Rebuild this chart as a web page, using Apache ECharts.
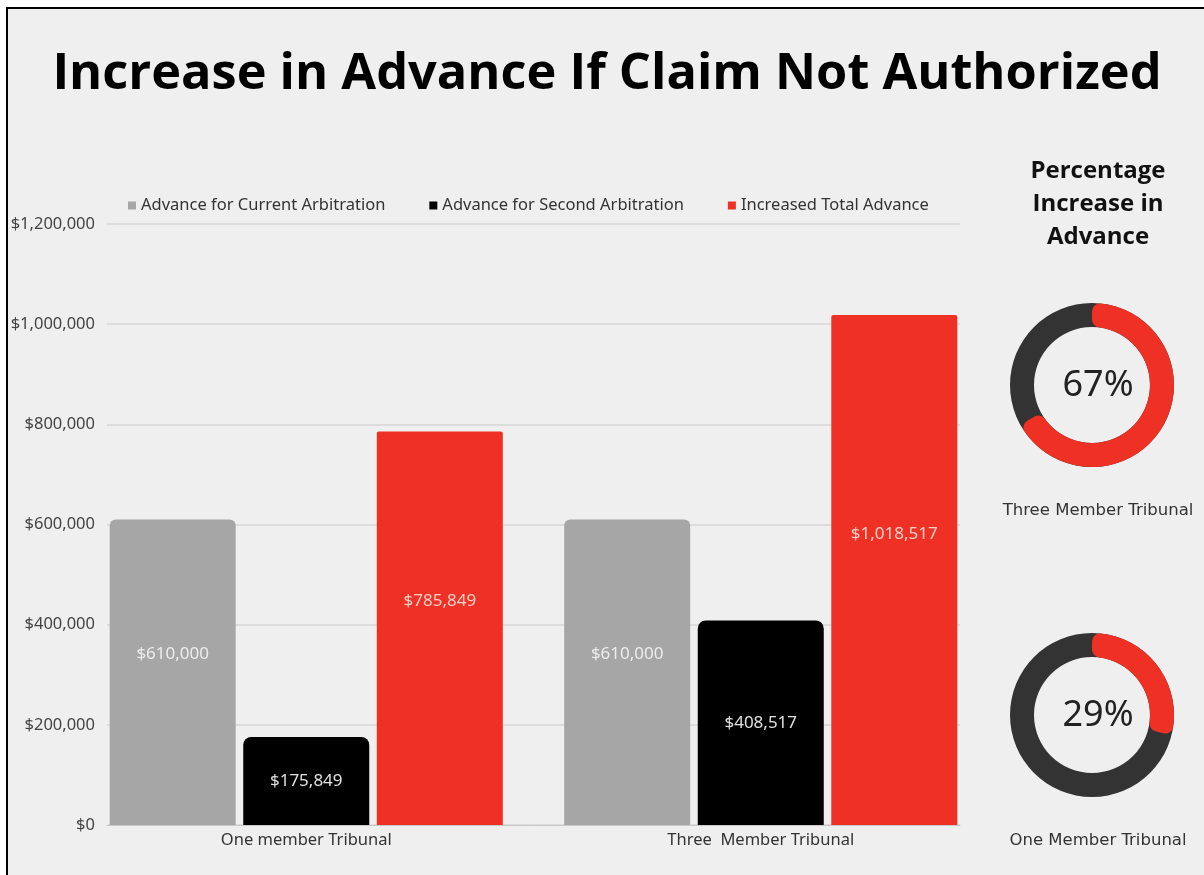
<!DOCTYPE html>
<html lang="en">
<head>
    <meta charset="UTF-8">
    <title>advance increase</title>
    <style>
        html, body { margin: 0; padding: 0; background: #ffffff; }
        #main { width: 1204px; height: 875px; }
    </style>
</head>
<body>
<div id="main"></div>
<script src="https://cdn.jsdelivr.net/npm/echarts@6/dist/echarts.min.js"></script>
<script>
    // data
    const categories = ['One member Tribunal', 'Three  Member Tribunal'];
    const seriesNames = ['Advance for Current Arbitration', 'Advance for Second Arbitration', 'Increased Total Advance'];
    const currentAdvance = [610000, 610000];
    const secondAdvance = [175849, 408517];
    const totalAdvance = [785849, 1018517];
    const donutPct = [67, 29];
    const donutNames = ['Three Member Tribunal', 'One Member Tribunal'];

    const RED = '#ee3124';
    const GRAY = '#a6a6a6';
    const DARK = '#333333';
    const FONT = '"Noto Sans", Lato, sans-serif';

    const money = v => '$' + Math.round(v).toLocaleString('en-US');

    function barSeries(name, data, color, radius, labelColor, labelPos) {
        return {
            name: name,
            type: 'bar',
            xAxisIndex: 0,
            yAxisIndex: 0,
            data: data,
            barWidth: 126,
            barGap: '6%',
            itemStyle: { color: color, borderRadius: radius },
            label: {
                show: true,
                position: labelPos,
                align: 'center',
                verticalAlign: 'middle',
                color: labelColor,
                fontSize: 17,
                fontFamily: FONT,
                formatter: p => money(p.value)
            }
        };
    }

    const donutCenters = [[1092, 385], [1092, 715]];
    const donutSeries = [];
    donutPct.forEach((p, i) => {
        // dark full ring underneath
        donutSeries.push({
            type: 'pie', center: donutCenters[i], radius: [58, 82], silent: true, z: 2,
            label: { show: false }, labelLine: { show: false },
            data: [{ value: 100, itemStyle: { color: DARK } }]
        });
        // red progress arc on top, rounded ends
        donutSeries.push({
            type: 'pie', center: donutCenters[i], radius: [58, 82], silent: true, z: 3,
            startAngle: 90,
            label: { show: false }, labelLine: { show: false },
            data: [
                { value: p, itemStyle: { color: RED, borderRadius: 8 } },
                { value: 100 - p, itemStyle: { color: 'rgba(0,0,0,0)' } }
            ]
        });
    });

    const chart = echarts.init(document.getElementById('main'));
    chart.setOption({
        backgroundColor: 'transparent',
        animation: false,
        textStyle: { fontFamily: FONT },
        graphic: [{
            type: 'rect',
            z: -10,
            shape: { x: 7, y: 8, width: 1215, height: 890 },
            style: { fill: '#efefef', stroke: '#000', lineWidth: 2 }
        }],
        title: [
            {
                text: 'Increase in Advance If Claim Not Authorized',
                left: 602, top: 44, textAlign: 'center',
                textStyle: { fontSize: 50.5, fontWeight: 'bold', color: '#000', fontFamily: '"Open Sans", sans-serif' }
            },
            {
                text: 'Percentage\nIncrease in\nAdvance',
                left: 1093, top: 150, textAlign: 'center',
                textStyle: { fontSize: 24, fontWeight: 'bold', color: '#111', lineHeight: 33, fontFamily: '"Open Sans", sans-serif' }
            }
        ].concat(donutPct.map((p, i) => ({
            text: p + '%',
            left: donutCenters[i][0] + 1, top: donutCenters[i][1] - 22, textAlign: 'center',
            textStyle: { fontSize: 36, fontWeight: 'normal', color: '#222', fontFamily: FONT }
        }))).concat(donutNames.map((n, i) => ({
            text: n,
            left: donutCenters[i][0] + 1, top: donutCenters[i][1] + 112, textAlign: 'center',
            textStyle: { fontSize: 16.5, fontWeight: 'normal', color: '#333', fontFamily: '"DejaVu Sans", sans-serif' }
        }))),
        legend: {
            data: seriesNames,
            left: 123, top: 192,
            icon: 'rect',
            itemWidth: 8, itemHeight: 8,
            itemGap: 44,
            textStyle: { fontSize: 16.5, color: '#333', fontFamily: FONT }
        },
        grid: [
            { left: 79, right: 216, top: 224, bottom: 50 },
            { left: 107, right: 244, top: 224, bottom: 50 }
        ],
        xAxis: [
            {
                gridIndex: 0, type: 'category', data: categories,
                axisLine: { show: false }, axisTick: { show: false },
                axisLabel: { color: '#333', fontSize: 16.5, margin: 7 }
            },
            {
                gridIndex: 1, type: 'category', data: categories,
                axisLine: { lineStyle: { color: '#c8c8c8' } }, axisTick: { show: false },
                axisLabel: { show: false }
            }
        ],
        yAxis: [
            {
                gridIndex: 0, type: 'value', min: 0, max: 1200000, interval: 200000,
                show: false, splitLine: { show: false }
            },
            {
                gridIndex: 1, type: 'value', min: 0, max: 1200000, interval: 200000,
                axisLabel: { color: '#444', fontSize: 16.5, margin: 12, formatter: v => money(v) },
                splitLine: { lineStyle: { color: '#d6d6d6', width: 1.5 } }
            }
        ],
        series: [
            barSeries(seriesNames[0], currentAdvance, GRAY, [6, 6, 0, 0], '#ececec', ['50%', '44%']),
            barSeries(seriesNames[1], secondAdvance, '#000000', [8, 8, 0, 0], '#e0e0e0', 'inside'),
            barSeries(seriesNames[2], totalAdvance, RED, [2, 2, 0, 0], '#f8d0c8', ['50%', '43%'])
        ].concat(donutSeries)
    });
</script>
</body>
</html>
